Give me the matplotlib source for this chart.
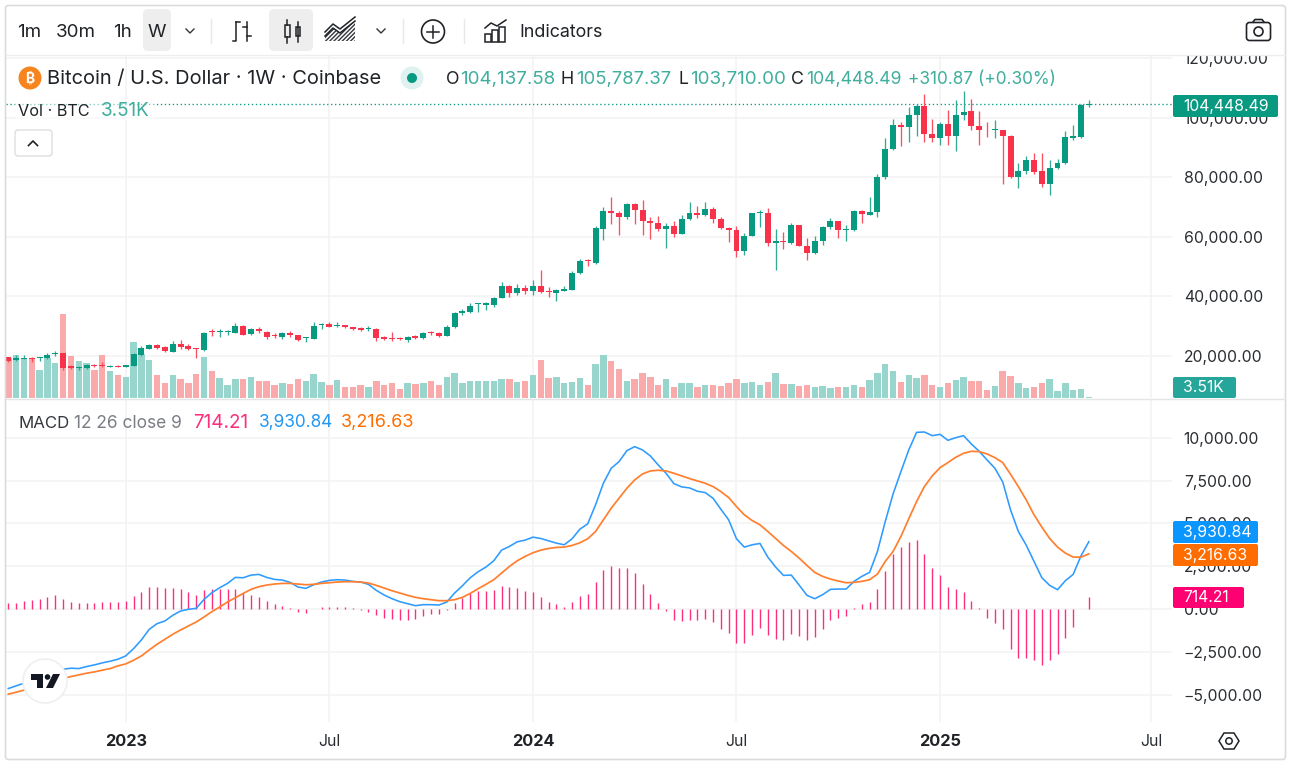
import numpy as np
import matplotlib
matplotlib.use("Agg")
import matplotlib.pyplot as plt
import matplotlib.transforms as mtransforms
from matplotlib.patches import Circle, FancyBboxPatch, Polygon, Rectangle

plt.rcParams['font.family'] = ['Inter', 'DejaVu Sans']

# weekly candles, USD
opens = [19550,18660,18990,19440,19330,19330,20670,20900,16530,15860,
16080,17090,17090,16420,16750,16420,16640,20340,22350,23580,
22910,21460,24140,23470,22580,21900,28290,27950,27950,27840,
30080,27280,28960,28180,27170,26380,27840,26940,26050,25820,
30530,30750,29970,30300,29630,29410,29070,29070,26270,26050,
26050,25490,26720,25940,28060,27840,26830,29630,34340,34670,
37360,37250,37140,39600,43630,41060,42960,41950,43630,41730,
41280,41840,42180,47730,52320,51310,62740,68560,67890,66770,
71030,69010,65430,64530,62740,63750,61060,65870,68110,67220,
69230,66100,62850,62180,55350,60390,67890,67890,57920,58480,
57920,63970,56910,54450,58590,63300,65310,62400,62290,68770,
67310,68430,79960,89380,97550,96880,100790,103925,94640,93070,
98000,93970,100790,102130,97320,96320,95870,95870,93850,80090,
82105,85685,81990,77850,83110,84680,93295,93520,104137.58]
highs = [19780,20220,20220,19780,19780,21000,21680,21120,17090,16750,
17200,17310,18100,16980,16980,17090,21120,23250,23920,24030,
23250,25040,25260,23920,22580,28180,28960,29070,28740,30980,
30420,29520,29630,28510,27620,28070,28290,27170,26500,31310,
31200,31310,31540,30530,29860,29860,30080,29300,26610,27950,
26270,26720,27170,28070,28510,28060,30300,34780,35680,37700,
37700,38030,39940,44750,43740,44190,43740,45540,48900,43300,
42510,43630,48450,52550,52660,63750,69900,73490,68560,71470,
71250,72370,66660,66880,64530,65200,67220,71590,70240,71590,
69900,66770,63190,63630,61280,68000,69010,69790,62510,61620,
64750,64080,59490,60270,63630,66210,65310,63970,69120,69100,
73240,81080,93070,99560,98670,103480,104485,107840,99450,98440,
102470,105940,108960,106160,102250,98440,99115,95870,94190,84790,
87030,88260,88150,85685,86020,95535,97550,104485,105787.37]
lows = [18100,18320,18880,18000,18430,19100,20000,15300,15520,15300,
15740,16420,16190,16190,16190,16190,16640,20110,22240,22350,
21340,21230,22350,21900,19440,21680,26720,26500,27170,27620,
27060,26940,27620,25600,26160,25600,26500,25150,24590,25710,
29180,29630,29860,29410,28740,28290,28510,25040,25380,25150,
25380,24810,25710,25710,27170,26390,26720,29410,33890,34560,
34670,35460,36580,39490,39830,40380,40830,40380,41280,39940,
38480,41730,42060,47400,50190,50750,59040,64310,60610,66100,
64190,60500,59270,62070,56130,59940,60830,65650,66210,67110,
64750,62620,58260,53330,54000,60390,63190,56920,48960,56020,
57590,56800,52320,54340,57250,62510,59600,58590,62070,64740,
67200,66530,79500,89150,90500,91730,93970,91730,91950,90950,
90830,88820,99225,95870,90830,93630,93070,77850,79640,76400,
80985,81210,76840,74160,82775,84565,92620,93070,103710]
closes = [18320,19330,19440,18880,19660,20340,21120,16080,16080,16420,
16860,16640,16640,16750,16420,16860,20670,22580,23580,22690,
21570,24140,22910,22240,22350,27840,27950,28290,28290,30080,
27170,29180,28290,26500,26720,27840,26940,25490,26380,30190,
30860,29860,30300,29860,28960,28850,29520,25940,25820,25600,
25710,26270,26160,27840,27620,26830,29740,34450,35010,36800,
37700,37700,39600,43630,41060,42740,41950,43630,41390,41500,
42180,42400,48000,52000,51880,62850,68560,67890,66770,70910,
69010,65430,64640,62630,63630,61060,65870,68110,67330,69230,
66100,62850,62290,55350,60390,67890,68230,57810,58480,58150,
63970,56910,54560,58590,63300,65310,62400,62740,68670,67540,
68320,79960,89380,97550,96880,100790,103925,94640,93070,98000,
93970,100790,102020,97320,95980,96090,96200,93850,80090,82105,
85685,81770,77850,83225,84790,93410,93855,104137.58,104448.49]

# volume in thousands of BTC
volumes = [143,151,139,139,101,142,126,298,149,133,126,101,154,96,84,77,198,157,136,83,
53,84,69,53,87,145,98,73,49,67,69,76,62,60,46,53,50,67,62,87,
57,46,64,42,39,49,39,60,46,53,34,53,50,56,60,46,76,91,53,62,
60,62,62,69,67,57,60,83,136,71,76,53,57,71,48,122,151,131,103,62,
69,91,76,48,69,39,55,55,39,48,48,43,55,67,53,57,46,57,91,50,
50,43,46,41,43,36,39,39,48,41,64,91,122,96,57,81,71,81,46,41,
53,64,76,60,60,30,43,97,78,55,36,39,53,67,25,53,29,34,3.51]

macd_line = [-4644,-4488,-4333,-4197,-4022,-3866,-3711,-3517,-3458,-3478,
-3361,-3264,-3147,-3050,-2934,-2740,-2312,-1807,-1185,-855,
-699,-369,-117,-19,39,564,952,1243,1496,1846,
1825,1980,2020,1845,1729,1690,1554,1282,1205,1418,
1574,1671,1710,1690,1613,1574,1438,1088,816,602,
427,311,194,253,253,233,408,933,1360,1826,
2176,2448,2817,3439,3653,3925,4022,4197,4119,3983,
3847,3750,4100,4663,4974,6081,7345,8219,8607,9249,
9482,9288,8938,8413,7928,7325,7131,7072,6878,6800,
6470,5829,5207,4100,3614,3750,3828,3031,2448,1962,
1982,1399,797,602,835,1146,1166,1166,1612,1904,
2137,3361,5110,6723,8025,9288,10317,10337,10123,10201,
9851,10006,10123,9637,9210,8704,8219,7422,5790,4527,
3731,2778,1826,1380,1127,1652,2021,3109,3930.84]
signal_line = [-4974,-4858,-4741,-4605,-4469,-4333,-4197,-4061,-3944,-3847,
-3750,-3672,-3575,-3478,-3323,-3206,-2992,-2740,-2390,-2060,
-1768,-1477,-1224,-991,-758,-466,-155,117,408,661,
913,1146,1302,1399,1457,1496,1496,1457,1418,1438,
1496,1535,1574,1593,1593,1574,1516,1379,1224,1069,
933,797,680,602,544,486,486,544,680,913,
1185,1438,1710,2098,2487,2817,3070,3284,3439,3536,
3595,3614,3711,3867,4100,4527,5207,5887,6470,7053,
7539,7889,8063,8102,8063,7928,7772,7617,7481,7345,
7150,6859,6509,5984,5499,5168,4916,4527,4119,3711,
3361,2973,2545,2137,1904,1749,1632,1535,1554,1613,
1710,2040,2779,3361,4236,5266,6276,7150,7772,8258,
8549,8860,9093,9210,9190,9055,8841,8549,7869,7150,
6373,5499,4780,4119,3614,3264,3031,3031,3216.63]
histogram = [369,369,446,505,563,679,796,563,427,330,
369,369,427,427,427,485,757,1009,1261,1300,
1203,1203,1164,1009,815,1086,1164,1164,1145,1164,
912,834,718,446,272,194,58,-175,-213,-20,
97,136,97,136,39,-58,-175,-369,-524,-602,
-640,-640,-563,-408,-311,-311,-78,350,641,933,
1030,1030,1127,1360,1282,1205,1049,972,700,427,
272,117,408,738,855,1554,2273,2487,2390,2390,
2079,1477,894,330,-136,-641,-680,-622,-641,-602,
-777,-1146,-1380,-2001,-2001,-1515,-1127,-1535,-1729,-1826,
-1438,-1593,-1826,-1612,-1146,-622,-505,-427,58,272,
427,1185,2215,3225,3633,3905,4022,3206,2370,1982,
1301,1166,1010,466,39,-505,-835,-1185,-2312,-2836,
-2875,-2992,-3264,-2972,-2623,-1671,-1030,20,714.21]

price_ticks = [120000, 100000, 80000, 60000, 40000, 20000]
macd_ticks = [10000, 7500, 5000, 2500, 0, -2500, -5000]
time_ticks = [15, 41, 67, 93, 119, 146]
time_labels = ['2023', 'Jul', '2024', 'Jul', '2025', 'Jul']
time_bold = ['2023', '2024', '2025']

GREEN = '#089981'
RED = '#F7324A'
GREEN_SOFT = '#98D5CD'
RED_SOFT = '#FBAAAC'
TEAL_TEXT = '#3FAE9D'
BLUE = '#2E9BFF'
ORANGE = '#FF7F2E'
PINK = '#FB2F7D'
GRID = '#F2F3F4'
INK = '#1F2226'

W, H = 1292, 766
SCALE_SIZE = 11.35


def pane(left, top, right, bottom):
    # axes from pixel box, y counted from the top of the picture
    return fig.add_axes([left / W, 1 - bottom / H, (right - left) / W, (bottom - top) / H])


def style_pane(ax, ticks, fmt):
    ax.set_xlim(xmin, xmax)
    ax.set_xticks(time_ticks)
    ax.set_yticks(ticks)
    ax.set_yticklabels([fmt(t) for t in ticks], fontsize=SCALE_SIZE, color='#2A2E33')
    ax.yaxis.tick_right()
    ax.tick_params(axis='both', length=0)
    ax.tick_params(axis='y', pad=8.5)
    ax.grid(True, color=GRID, lw=1.1)
    ax.set_axisbelow(True)
    for s in ax.spines.values():
        s.set_visible(False)


def tag(x0, y0, x1, y1, color, label):
    ui.add_patch(FancyBboxPatch((x0 + 1, y0 + 1), x1 - x0 - 2, y1 - y0 - 2, boxstyle='round,pad=1,rounding_size=2',
                                fc=color, ec='none'))
    ui.text(1183, (y0 + y1) / 2 + 0.5, label, color='white', fontsize=SCALE_SIZE, va='center', ha='left')


fig = plt.figure(figsize=(W / 100, H / 100), dpi=100)
xs = np.arange(len(closes))
xmin = (6 - 8.3) / 7.83
xmax = (1172 - 8.3) / 7.83

o, h, l, c = map(np.array, (opens, highs, lows, closes))
up = c >= o
body_col = np.where(up, GREEN, RED)
wick_col = np.where(up, '#33A994', '#F9505F')
vol_col = np.where(up, GREEN_SOFT, RED_SOFT)

# price pane
ax = pane(6, 56, 1172, 398.5)
style_pane(ax, price_ticks, lambda t: f'{t:,.2f}')
ax.set_xticklabels([])
ax.set_ylim(5737, 120680)

# volume is scaled to its own range, bars grow from the pane bottom
vol_top = 342.5 * 3.51
vol_trans = mtransforms.Affine2D().scale(1, 1 / vol_top) + ax.get_xaxis_transform()
ax.bar(xs, volumes, width=0.82, color=vol_col, transform=vol_trans, zorder=1)

ax.vlines(xs, l, h, color=wick_col, lw=0.95, zorder=3)
ax.bar(xs, np.maximum(np.abs(c - o), 150), bottom=np.minimum(o, c), width=0.76, color=body_col, zorder=4)
ax.axhline(closes[-1], color=GREEN, ls=(0, (1, 2)), lw=0.95, zorder=2)

# macd pane
ax2 = pane(6, 400, 1172, 722)
style_pane(ax2, macd_ticks, lambda t: f'{t:,.2f}'.replace('-', '\u2212'))
ax2.set_ylim(-6599, 12206)
ax2.set_xticklabels(time_labels, fontsize=11.4, color='#2A2E33')
ax2.tick_params(axis='x', pad=8.5)
for lab in ax2.get_xticklabels():
    if lab.get_text() in time_bold:
        lab.set_fontweight('bold')
        lab.set_fontsize(11.8)
        lab.set_color(INK)
ax2.vlines(xs, 0, histogram, color=PINK, lw=1.0, zorder=2)
ax2.plot(xs, macd_line, color=BLUE, lw=1.15, zorder=3)
ax2.plot(xs, signal_line, color=ORANGE, lw=1.25, zorder=4)

# everything that is chrome goes on a pixel overlay
ui = fig.add_axes([0, 0, 1, 1], zorder=10)
ui.set_xlim(0, W)
ui.set_ylim(H, 0)
ui.axis('off')
ui.patch.set_visible(False)

ui.add_patch(Rectangle((0, 0), W, 6, fc='white', ec='none'))
ui.add_patch(Rectangle((6, 6), 1279, 49, fc='white', ec='none'))
ui.add_patch(FancyBboxPatch((5.5, 5.5), 1280, 754, boxstyle='round,pad=0,rounding_size=3', fc='none', ec='#DADBDD', lw=1.2))
ui.plot([6, 1285], [55, 55], color='#EDEEEF', lw=1)
ui.plot([6, 1285], [399, 399], color='#E4E5E7', lw=1)

# toolbar
for x0, x1 in [(143, 171), (269, 313)]:
    ui.add_patch(FancyBboxPatch((x0 + 4, 13), x1 - x0 - 8, 34, boxstyle='round,pad=4,rounding_size=5', fc='#EEEEEF', ec='none'))
for x, s in [(29, '1m'), (76, '30m'), (122, '1h'), (157, 'W')]:
    ui.text(x, 32.5, s, fontsize=13.5, color=INK, ha='center', va='center')
for x in [211, 403, 464]:
    ui.plot([x, x], [19, 43], color='#E8E8EA', lw=1)
for x in [190, 381]:
    ui.plot([x - 4, x, x + 4], [29, 33, 29], color='#33373C', lw=1)
# bar, candle and area icons
ui.plot([236, 236, 233], [22, 41, 41], color=INK, lw=1.1)
ui.plot([236, 240], [22, 22], color=INK, lw=1.1)
ui.plot([247, 247], [22, 41], color=INK, lw=1.1)
ui.plot([243, 247], [27, 27], color=INK, lw=1.1)
ui.plot([247, 251], [36, 36], color=INK, lw=1.1)
ui.add_patch(Rectangle((284.5, 25), 5, 12, fc='none', ec=INK, lw=1.1))
ui.plot([287, 287], [20, 25], color=INK, lw=1.1)
ui.plot([287, 287], [37, 43], color=INK, lw=1.1)
ui.add_patch(Rectangle((295.5, 27), 4, 9, fc='none', ec=INK, lw=1.1))
ui.plot([297.5, 297.5], [22, 42], color=INK, lw=1.1)
area_x = [325, 333, 340, 345, 355]
area_y = [36, 28, 33, 29, 21]
ui.add_patch(Polygon(list(zip(area_x, area_y)) + [(355, 41), (325, 41)], fc='white', ec='#33373C', hatch='////////', lw=0))
ui.plot(area_x, area_y, color=INK, lw=1.1)
ui.plot(area_x, [y - 4 for y in area_y], color=INK, lw=1.1)
ui.add_patch(Circle((433, 31.5), 11.5, fc='none', ec=INK, lw=1.2))
ui.plot([427, 439], [31.5, 31.5], color=INK, lw=1.1)
ui.plot([433, 433], [25.5, 37.5], color=INK, lw=1.1)
for x0, y0 in [(485, 34), (492, 30), (499, 27)]:
    ui.add_patch(Rectangle((x0, y0), 6, 42 - y0, fc='none', ec=INK, lw=1.1))
ui.plot([485, 491, 497, 506], [28, 23, 26, 20], color=INK, lw=1.1)
ui.text(519, 32.5, 'Indicators', fontsize=12.9, color=INK, ha='left', va='center')
# camera
ui.add_patch(FancyBboxPatch((1248, 24), 21, 15, boxstyle='round,pad=1.5,rounding_size=3', fc='none', ec=INK, lw=1.2))
ui.add_patch(Circle((1258.5, 31.5), 4.5, fc='none', ec=INK, lw=1.2))
ui.plot([1253, 1255, 1262, 1264], [22, 19.5, 19.5, 22], color=INK, lw=1.2)

# legend rows
ui.add_patch(Circle((30, 78), 11.5, fc='#F7851F', ec='none'))
ui.text(30, 78, '\u20bf', fontsize=10, color='white', ha='center', va='center', fontweight='bold')
ui.text(47, 79.5, 'Bitcoin / U.S. Dollar \u00b7 1W \u00b7 Coinbase', fontsize=14.45, color=INK, ha='left', va='center')
ui.add_patch(Circle((412, 78), 11.5, fc='#DFF2EF', ec='none'))
ui.add_patch(Circle((412, 78), 5, fc=GREEN, ec='none'))
for x, s, col, size in [(446, 'O', INK, 12.8), (460, '104,137.58', TEAL_TEXT, 13.5), (561, 'H', INK, 12.8),
                        (576, '105,787.37', TEAL_TEXT, 13.3), (678, 'L', INK, 12.8), (690, '103,710.00', TEAL_TEXT, 13.5),
                        (791, 'C', INK, 12.8), (806, '104,448.49', TEAL_TEXT, 12.7), (908, '+310.87 (+0.30%)', TEAL_TEXT, 12.4)]:
    ui.text(x, 79.5, s, fontsize=size, color=col, ha='left', va='center')

ui.add_patch(Rectangle((15, 100), 139, 20, fc='white', ec='none', alpha=0.5))
ui.text(18, 111, 'Vol \u00b7 BTC', fontsize=11.7, color=INK, ha='left', va='center')
ui.text(101, 111, '3.51K', fontsize=13.6, color=TEAL_TEXT, ha='left', va='center')
ui.add_patch(FancyBboxPatch((16, 131), 35, 24, boxstyle='round,pad=1,rounding_size=3', fc='white', ec='#DDDEE0', lw=1))
ui.plot([28.5, 33, 37.5], [145.5, 141, 145.5], color=INK, lw=1.2)

for x, s, col, size in [(18, 'MACD', '#33373C', 12.1), (74, '12 26 close 9', '#7A7E84', 12.5), (193, '714.21', PINK, 13.6),
                        (259, '3,930.84', '#2196F3', 12.4), (341, '3,216.63', '#FF6D00', 13.0)]:
    ui.text(x, 423, s, fontsize=size, color=col, ha='left', va='center')

# last value tags on the scales
tag(1173, 95, 1278, 117, GREEN, '104,448.49')
tag(1173, 377, 1236, 398, '#26A69A', '3.51K')
tag(1173, 521, 1258, 543, '#0A95FF', '3,930.84')
tag(1173, 544, 1258, 566, '#FF6D00', '3,216.63')
tag(1173, 587, 1244, 608, '#FF0072', '714.21')

# tradingview badge
ui.add_patch(Circle((45, 681), 22, fc='white', ec='#EEEFF0', lw=1.2))
ui.add_patch(Polygon([(31, 674), (43, 674), (43, 688), (37, 688), (37, 680), (31, 680)], fc='#131722', ec='none'))
ui.add_patch(Circle((47.5, 677), 2.8, fc='#131722', ec='none'))
ui.add_patch(Polygon([(53, 674), (60, 674), (53, 688), (46, 688)], fc='#131722', ec='none'))

# settings hexagon at the time scale corner
hex_x = [1219, 1224, 1234, 1239, 1234, 1224]
hex_y = [741, 733, 733, 741, 749, 749]
ui.add_patch(Polygon(list(zip(hex_x, hex_y)), fc='none', ec=INK, lw=1.1))
ui.add_patch(Circle((1229, 741), 3.2, fc='none', ec=INK, lw=1.1))

fig.savefig('out.png', dpi=100)
